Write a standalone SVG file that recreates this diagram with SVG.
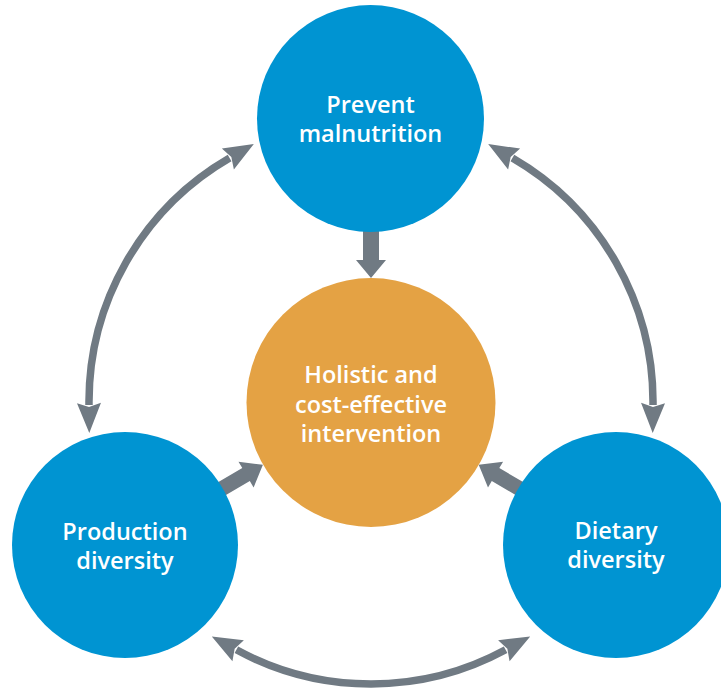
<svg xmlns="http://www.w3.org/2000/svg" width="721" height="688" viewBox="0 0 721 688">
<style>
.node-blue{fill:#0094D2}
.node-orange{fill:#E4A244}
.lbl{font-family:"Open Sans","Noto Sans","Liberation Sans",sans-serif;font-weight:600;font-size:23.5px;fill:#ffffff;text-anchor:middle}
.arc{fill:none;stroke:#707A83;stroke-width:7.5}
.arr{fill:#707A83}
</style>
<defs>
<marker id="head" markerUnits="userSpaceOnUse" markerWidth="30" markerHeight="24" refX="2" refY="12" orient="auto-start-reverse" overflow="visible">
<path d="M0,0 L30,12 L0,24 L4,12 Z" fill="#707A83"/>
</marker>
</defs>
<rect width="721" height="688" fill="#ffffff"/>
<g id="connectors">
<path class="arc" d="M89,405 A282 282 0 0 1 229.6,158" marker-start="url(#head)" marker-end="url(#head)"/>
<path class="arc" d="M512.4,158 A282 282 0 0 1 653,405" marker-start="url(#head)" marker-end="url(#head)"/>
<path class="arc" d="M505.6,649.8 A282 282 0 0 1 236.4,649.8" marker-start="url(#head)" marker-end="url(#head)"/>
<polygon class="arr" transform="translate(371,215) rotate(90)" points="0,-8 45,-8 45,-15 63,0 45,15 45,8 0,8"/>
<polygon class="arr" transform="translate(215.8,492.2) rotate(-30.2)" points="0,-7.5 35,-7.5 35,-15 54.5,0 35,15 35,7.5 0,7.5"/>
<polygon class="arr" transform="translate(525.8,492.2) rotate(-149.8)" points="0,-7.5 35,-7.5 35,-15 54.5,0 35,15 35,7.5 0,7.5"/>
</g>
<g id="node-prevent">
<circle class="node-blue" cx="370.5" cy="118.5" r="113.5"/>
<text class="lbl" x="370.5" y="112.5">Prevent</text>
<text class="lbl" x="370.5" y="142">malnutrition</text>
</g>
<g id="node-holistic">
<circle class="node-orange" cx="371" cy="402.5" r="124.5"/>
<text class="lbl" x="371" y="383">Holistic and</text>
<text class="lbl" x="371" y="412.5">cost-effective</text>
<text class="lbl" x="371" y="442">intervention</text>
</g>
<g id="node-production">
<circle class="node-blue" cx="125" cy="545" r="113"/>
<text class="lbl" x="125" y="539.5">Production</text>
<text class="lbl" x="125" y="568.5">diversity</text>
</g>
<g id="node-dietary">
<circle class="node-blue" cx="616" cy="545" r="113"/>
<text class="lbl" x="616" y="538.5">Dietary</text>
<text class="lbl" x="616" y="567.5">diversity</text>
</g>
</svg>
